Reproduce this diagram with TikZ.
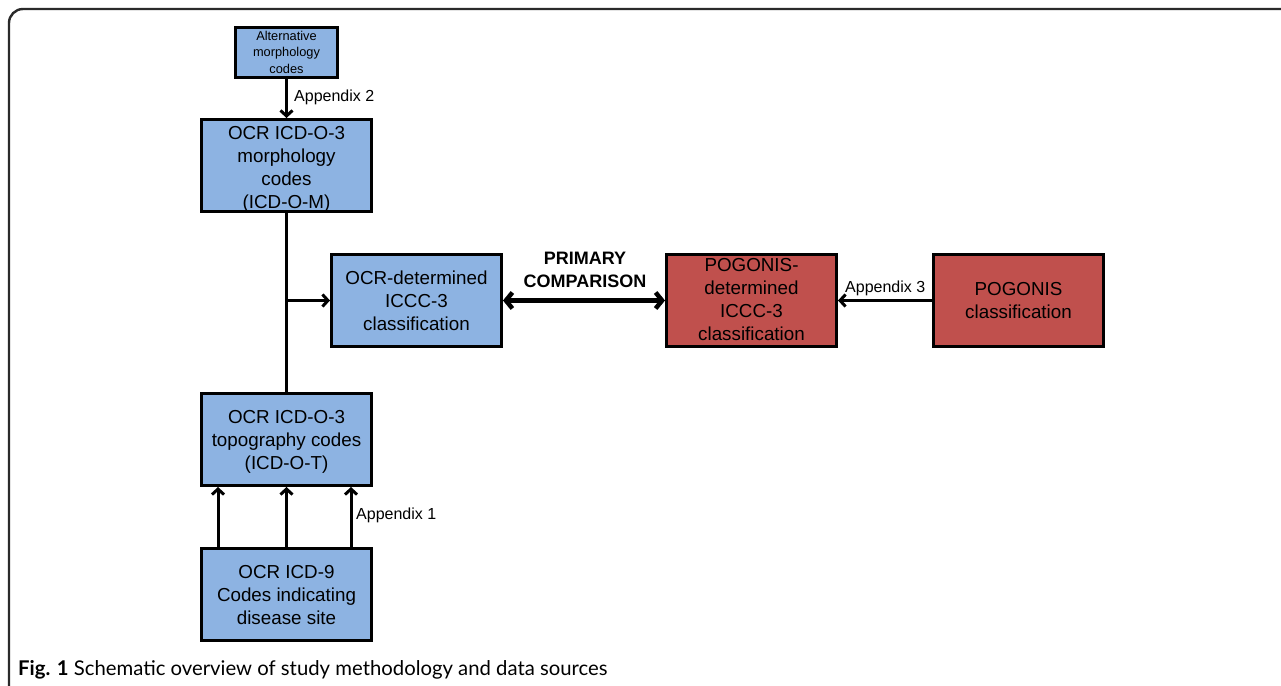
\documentclass[tikz,border=0pt]{standalone}
\usepackage{fontspec}
\setmainfont{Liberation Sans}
\newfontfamily\capfont{Lato}
\usetikzlibrary{arrows.meta}
\definecolor{boxblue}{HTML}{8DB3E2}
\definecolor{boxred}{HTML}{C0504D}
\definecolor{framegray}{HTML}{2A2A2A}
% text block lowered by #1 without changing the node size
\newcommand\boxtext[2][2pt]{\raisebox{-#1}[\height][\depth]{\begin{tabular}{@{}c@{}}#2\end{tabular}}}
\begin{document}
\begin{tikzpicture}[x=1pt,y=-1pt,
  box/.style={draw=black, line width=3pt, fill=boxblue, minimum width=170pt, minimum height=92pt,
    inner sep=0pt, font=\fontsize{18.8}{23}\selectfont},
  redbox/.style={box, fill=boxred},
  smallbox/.style={box, minimum width=102pt, minimum height=48pt, font=\fontsize{12.8}{16.5}\selectfont},
  lbl/.style={font=\fontsize{16}{19}\selectfont, inner sep=0pt},
  plain/.style={line width=3pt},
  arr/.style={line width=3pt, -{Straight Barb[length=5.5pt,width=12pt,line width=3pt]}},
  dbl/.style={line width=5pt, {Straight Barb[length=6.5pt,width=16pt,line width=4.5pt]}-{Straight Barb[length=6.5pt,width=16pt,line width=4.5pt]}},
  ]
\useasboundingbox (0,0) rectangle (1281,685);
\draw[framegray, line width=2.4pt, rounded corners=14pt] (9,700) -- (9,9) -- (1295,9);

\node[smallbox] (alt) at (286.5,52.5) {\boxtext[1pt]{Alternative\\morphology\\codes}};
\node[box] (M) at (286.5,165.5) {\boxtext[4pt]{OCR ICD-O-3\\morphology\\codes\\(ICD-O-M)}};
\node[box] (det) at (416.5,300.5) {\boxtext[2pt]{OCR-determined\\ICCC-3\\classification}};
\node[redbox] (pdet) at (751.5,300.5) {\boxtext[0.5pt]{POGONIS-\\determined\\ICCC-3\\classification}};
\node[redbox] (pog) at (1018.5,300.5) {\boxtext[2pt]{POGONIS\\classification}};
\node[box] (T) at (286.5,439.5) {\boxtext[2.5pt]{OCR ICD-O-3\\topography codes\\(ICD-O-T)}};
\node[box] (icd) at (286.5,594.5) {\boxtext[2pt]{OCR ICD-9\\Codes indicating\\disease site}};

\draw[arr] (alt) -- (M);
\node[lbl, anchor=west] (ap2) at (294,97) {Appendix 2};

\draw[plain] (M.south) -- (T.north);
\draw[arr] (M.south |- det.west) -- (det.west);

\draw[dbl] (det) -- (pdet);
\node[font=\bfseries\fontsize{18}{22.5}\selectfont, align=center, inner sep=0pt] (pc) at (585,270) {PRIMARY\\COMPARISON};

\draw[arr] (pog) -- (pdet);
\node[lbl, anchor=base west] (ap3) at (845,292) {Appendix 3};

\coordinate (c1) at (218,0);
\coordinate (c3) at (351,0);
\draw[arr] (icd.north -| c1) -- (T.south -| c1);
\draw[arr] (icd) -- (T);
\draw[arr] (icd.north -| c3) -- (T.south -| c3);
\node[lbl, anchor=west] (ap1) at (356,515) {Appendix 1};

\node[anchor=base west, inner sep=0pt, font=\capfont\fontsize{20.3}{24}\selectfont] (cap) at (18,675)
  {\textbf{Fig. 1} Schematic overview of study methodology and data sources};
\end{tikzpicture}
\end{document}
